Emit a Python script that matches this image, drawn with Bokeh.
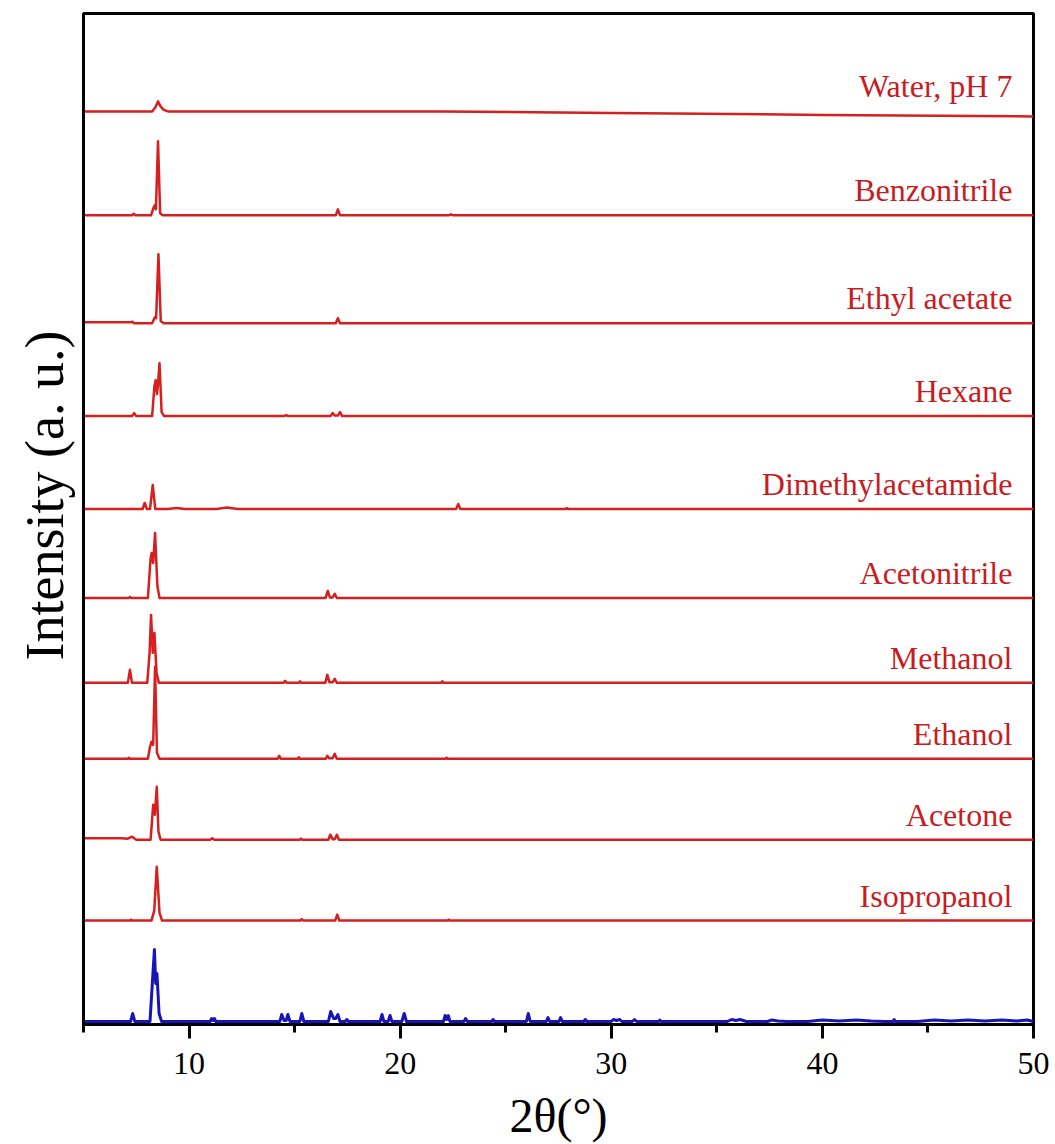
from bokeh.plotting import figure
from bokeh.models import Range1d, FixedTicker, ColumnDataSource, Title
from bokeh.core.properties import value
from bokeh.embed import file_html
from bokeh.resources import INLINE

# ---------------- data (2θ in degrees, intensity in a.u.) ----------------
names = ["Water, pH 7", "Benzonitrile", "Ethyl acetate", "Hexane", "Dimethylacetamide",
         "Acetonitrile", "Methanol", "Ethanol", "Acetone", "Isopropanol"]
offsets = [911, 807, 699, 606, 513, 424, 339, 263, 182, 101]

water_x = [5.0, 8.25, 8.4, 8.53, 8.65, 8.8, 9.0, 22.0, 30.0, 40.0, 50.0]
water_y = [0, 0, 4, 10, 5, 1.5, 0, 0, -1.5, -3.5, -5]

benz_x = [5.0, 7.3, 7.38, 7.46, 8.2, 8.32, 8.38, 8.43, 8.53, 8.63, 8.75, 12.0,
          16.95, 17.05, 17.15, 22.3, 22.4, 22.5, 50.0]
benz_y = [0, 0, 1.5, 0, 0, 8, 10, 6, 74, 2, 0, 0, 0, 6, 0, 0, 1, 0, 0]

ea_x = [5.0, 7.25, 7.32, 7.4, 8.25, 8.38, 8.44, 8.55, 8.66, 8.8, 16.95, 17.05, 17.15, 50.0]
ea_y = [1, 1, 1.5, 0, 0, 6, 5, 69, 2, 0, 0, 5, 0, 0]

hex_x = [5.0, 7.3, 7.4, 7.5, 8.25, 8.36, 8.42, 8.48, 8.52, 8.6, 8.7, 8.82,
         14.5, 14.6, 14.7, 16.7, 16.8, 16.9, 17.05, 17.15, 17.25, 50.0]
hex_y = [0, 0, 3, 0, 0, 30, 36, 22, 30, 53, 4, 0, 0, 1, 0, 0, 3, 0.5, 0.5, 4, 0, 0]

dma_x = [5.0, 7.8, 7.9, 8.0, 8.15, 8.28, 8.4, 9.0, 9.4, 9.8, 11.3, 11.8, 12.3,
         22.65, 22.75, 22.85, 27.8, 27.9, 28.0, 50.0]
dma_y = [0, 0, 6, 0, 0, 24, 0, 0, 1, 0, 0, 1.5, 0, 0, 5, 0, 0, 1, 0, 0]

acn_x = [5.0, 7.15, 7.2, 7.25, 8.05, 8.18, 8.23, 8.3, 8.39, 8.5, 8.6,
         16.47, 16.57, 16.67, 16.8, 16.9, 17.0, 50.0]
acn_y = [0, 0, 1, 0, 0, 40, 45, 35, 65, 12, 0, 0, 7, 0.5, 0.5, 4, 0, 0]

meoh_x = [5.0, 7.1, 7.2, 7.3, 8.02, 8.13, 8.2, 8.28, 8.36, 8.46, 8.57,
          14.47, 14.55, 14.63, 15.2, 15.26, 15.32, 16.45, 16.55, 16.65, 16.8, 16.9, 17.0,
          21.95, 22.0, 22.05, 50.0]
meoh_y = [0, 0, 13, 0, 0, 30, 68, 30, 50, 10, 0, 0, 2, 0, 0, 1.5, 0, 0, 8, 0.5, 0.5, 4, 0,
          0, 1.5, 0, 0]

etoh_x = [5.0, 7.1, 7.15, 7.2, 8.05, 8.15, 8.22, 8.3, 8.39, 8.48, 8.6,
          14.2, 14.27, 14.34, 15.15, 15.2, 15.25, 16.47, 16.55, 16.63, 16.8, 16.9, 17.0,
          22.15, 22.2, 22.25, 50.0]
etoh_y = [0, 0, 1, 0, 0, 12, 17, 14, 92, 6, 0, 0, 3, 0, 0, 1.5, 0, 0, 3, 0.5, 0.5, 5, 0,
          0, 1, 0, 0]

ace_x = [5.0, 6.8, 7.1, 7.3, 7.5, 8.18, 8.3, 8.38, 8.47, 8.55, 8.65, 11.0, 11.1, 11.2,
         15.25, 15.3, 15.35, 16.6, 16.69, 16.8, 16.9, 17.0, 17.1, 50.0]
ace_y = [1.5, 1.5, 1, 3, 0, 0, 35, 25, 53, 8, 0, 0, 1.5, 0, 0, 1, 0, 0, 5, 0.5, 0.5, 5, 0, 0]

ipa_x = [5.0, 7.2, 7.25, 7.3, 8.22, 8.35, 8.47, 8.6, 8.72, 15.27, 15.34, 15.41,
         16.92, 17.02, 17.12, 22.25, 22.3, 22.35, 50.0]
ipa_y = [0, 0, 1, 0, 0, 10, 54, 8, 0, 0, 1.5, 0, 0, 6, 0, 0, 1, 0, 0]

ref_x = [5.0, 7.23, 7.33, 7.43, 8.15, 8.28, 8.36, 8.42, 8.48, 8.58, 8.7,
         11.0, 11.07, 11.13, 11.2, 11.27, 14.3, 14.39, 14.5, 14.6, 14.68, 14.78,
         15.25, 15.34, 15.44, 16.6, 16.71, 16.85, 16.95, 17.05, 17.15, 17.4, 17.47, 17.55,
         19.05, 19.14, 19.23, 19.43, 19.52, 19.61, 20.08, 20.19, 20.3,
         22.05, 22.13, 22.2, 22.28, 22.36, 23.02, 23.1, 23.18, 24.33, 24.4, 24.47,
         25.98, 26.07, 26.16, 26.92, 27.0, 27.08, 27.52, 27.6, 27.68, 28.7, 28.77, 28.84,
         30.0, 30.1, 30.25, 30.4, 30.5, 31.0, 31.1, 31.2, 32.25, 32.3, 32.35,
         35.5, 35.7, 35.9, 36.1, 36.4, 37.4, 37.6, 37.9, 38.3,
         39.3, 40.0, 40.8, 41.6, 42.3, 42.9, 43.35, 43.4, 43.45,
         44.5, 45.3, 46.1, 46.9, 47.7, 48.5, 49.2, 49.7, 50.0]
ref_y = [0, 0, 8, 0, 0, 45, 72, 38, 48, 8, 0,
         0, 3, 1, 3, 0, 0, 7, 1, 1, 7, 0,
         0, 8, 0, 0, 10, 3, 3, 7, 0, 0, 2, 0,
         0, 7, 0, 0, 6, 0, 0, 8, 0,
         0, 6, 2, 6, 0, 0, 3, 0, 0, 2, 0,
         0, 8, 0, 0, 4, 0, 0, 4, 0, 0, 2, 0,
         0, 2, 1, 2, 0, 0, 2, 0, 0, 1.5, 0,
         0, 2, 1, 2, 0, 0, 1.5, 0.5, 0,
         0, 1.5, 0.5, 1.5, 0.5, 0, 0, 2, 0,
         0, 1.5, 0.5, 1.5, 0.5, 1.5, 0.5, 1.5, 0]

series_x = [water_x, benz_x, ea_x, hex_x, dma_x, acn_x, meoh_x, etoh_x, ace_x, ipa_x]
series_y = [water_y, benz_y, ea_y, hex_y, dma_y, acn_y, meoh_y, etoh_y, ace_y, ipa_y]

x_ticks = [10, 20, 30, 40, 50]
x_minor = [5, 15, 25, 35, 45]

# ---------------- styles ----------------
RED = "#d61f1f"
TXT = "#c81c22"
BLUE = "#1616b8"
SERIF = "Liberation Serif"

p = figure(width=1055, height=1144, output_backend="svg", toolbar_location=None,
           x_range=Range1d(5, 50), y_range=Range1d(-3, 1009),
           min_border_left=83, min_border_right=22, min_border_top=13, min_border_bottom=119,
           background_fill_color="white", border_fill_color="white")
p.xgrid.visible = False
p.ygrid.visible = False
p.outline_line_color = "black"
p.outline_line_width = 3

for xs, ys, off in zip(series_x, series_y, offsets):
    assert len(xs) == len(ys)
    p.line(xs, [v + off for v in ys], line_color=RED, line_width=2.5, line_join="round")

assert len(ref_x) == len(ref_y)
p.line(ref_x, ref_y, line_color=BLUE, line_width=3, line_join="round")

lab_src = ColumnDataSource(dict(x=[49.0] * len(names), y=[o + 25 for o in offsets], t=names))
p.text(x="x", y="y", text="t", source=lab_src, text_align="right", text_baseline="alphabetic",
       text_font=value(SERIF), text_font_size="32px", text_color=TXT)

xa = p.xaxis[0]
xa.ticker = FixedTicker(ticks=x_ticks, minor_ticks=x_minor)
xa.axis_line_width = 3
xa.major_tick_line_width = 3
xa.minor_tick_line_width = 3
xa.major_tick_in = 0
xa.major_tick_out = 14
xa.minor_tick_in = 0
xa.minor_tick_out = 8
xa.major_label_text_font = SERIF
xa.major_label_text_font_size = "32px"
xa.major_label_text_color = "black"
xa.major_label_standoff = 14
xa.axis_label = "2θ(°)"
xa.axis_label_text_font = SERIF
xa.axis_label_text_font_size = "48px"
xa.axis_label_text_font_style = "normal"
xa.axis_label_text_color = "black"
xa.axis_label_standoff = 12

ya = p.yaxis[0]
ya.ticker = FixedTicker(ticks=[])
ya.axis_line_width = 3
ya.major_tick_line_color = None
ya.minor_tick_line_color = None
ya.major_tick_in = 0
ya.major_tick_out = 0
ya.minor_tick_in = 0
ya.minor_tick_out = 0
ya.major_label_standoff = 0
ya.major_label_text_font_size = "0px"

ytitle = Title(text="Intensity (a. u.)", align="right", offset=317, standoff=18,
               text_font=SERIF, text_font_size="54px", text_font_style="normal",
               text_color="black")
p.add_layout(ytitle, "left")

open("out.html", "w").write(file_html(p, INLINE))
